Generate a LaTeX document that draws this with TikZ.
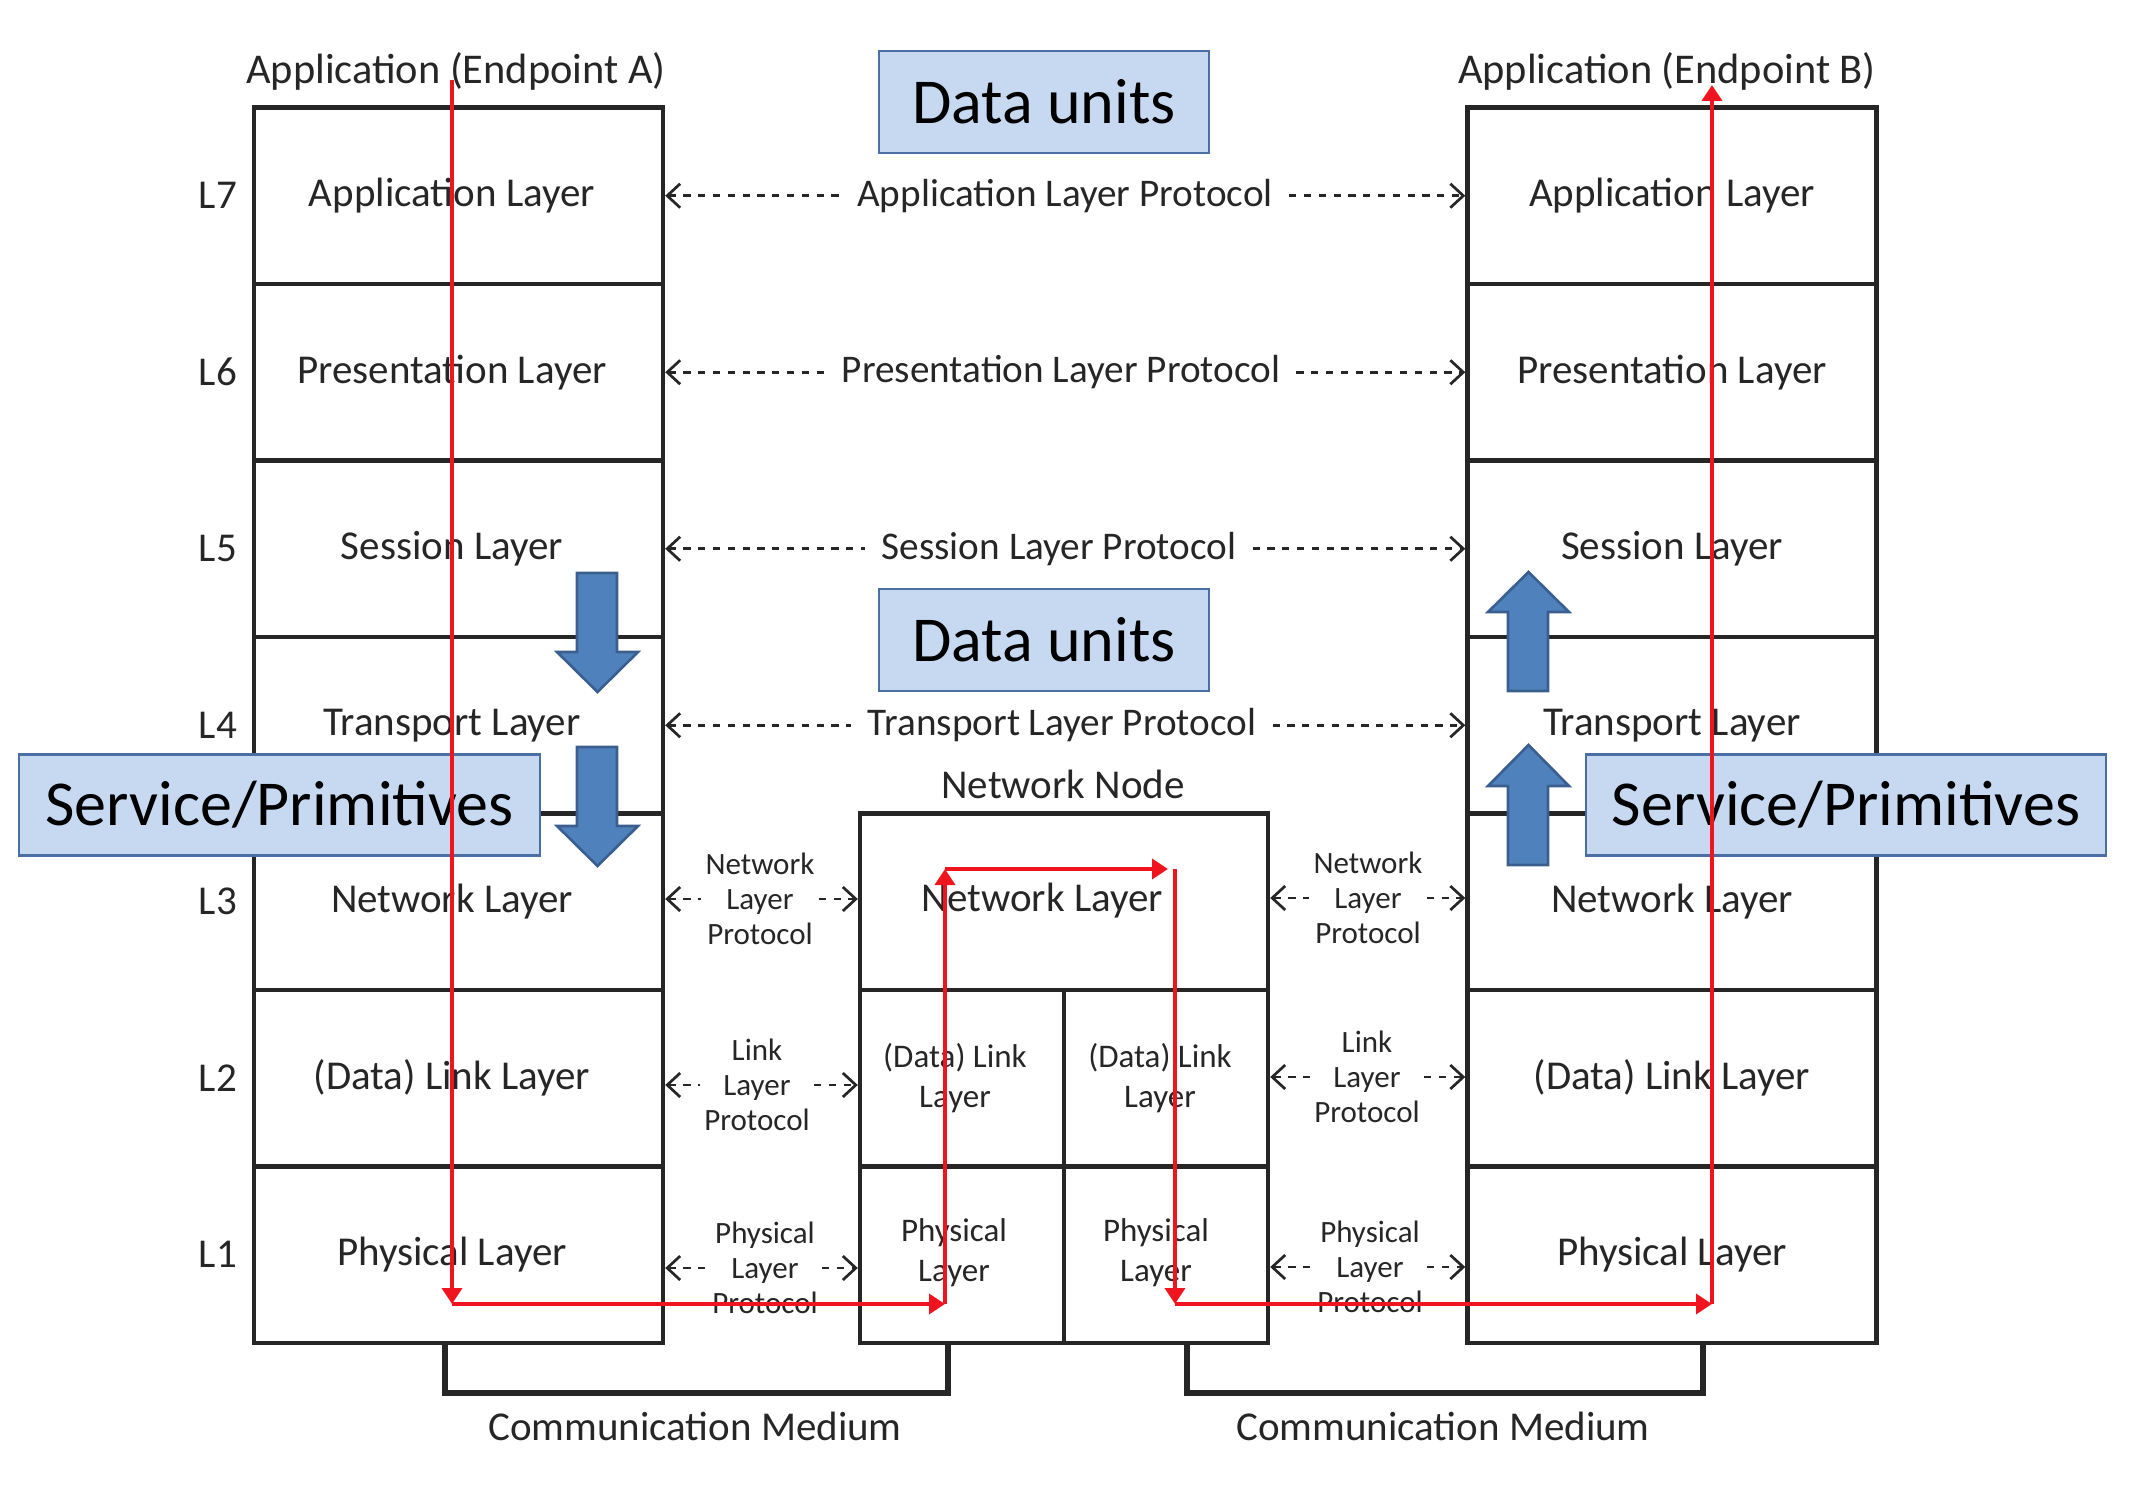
\documentclass[tikz,border=0pt]{standalone}
\usepackage{fontspec}
\setmainfont{Carlito}
\usetikzlibrary{arrows.meta}
\definecolor{txtc}{HTML}{262626}
\definecolor{lblue}{HTML}{C6D9F1}
\definecolor{bblue}{HTML}{4F81BD}
\definecolor{dblue}{HTML}{3A5F8E}
\definecolor{boxb}{HTML}{4A6FA5}
\definecolor{redc}{HTML}{F0141E}
\begin{document}
\begin{tikzpicture}[x=0.5pt,y=-0.5pt,
  layer/.style={draw=black!85, line width=2.2pt, minimum width=204.5pt, minimum height=88.25pt, inner sep=0pt, font=\fontsize{20.5}{24}\selectfont, text=txtc},
  cell/.style={draw=black!85, line width=2.2pt, minimum width=102pt, minimum height=88.25pt, inner sep=0pt},
  big/.style={font=\fontsize{20.5}{24}\selectfont, text=txtc, inner sep=0pt},
  title/.style={font=\fontsize{21.2}{25}\selectfont, text=txtc, inner sep=0pt},
  ptxt/.style={font=\fontsize{19.6}{24}\selectfont, text=txtc, inner ysep=0pt, inner xsep=8pt},
  small/.style={font=\fontsize{15.5}{17.5}\selectfont, text=txtc, align=center, inner ysep=0pt, inner xsep=2pt},
  celltxt/.style={font=\fontsize{16.5}{20}\selectfont, text=txtc, align=center, inner sep=0pt},
  proto/.style={draw=black!85, line width=1.35pt, dash pattern=on 3.6pt off 3.8pt},
  lt/.style={proto, {Straight Barb[length=6.5pt,width=12pt,line width=1.35pt]}-},
  rt/.style={proto, -{Straight Barb[length=6.5pt,width=12pt,line width=1.35pt]}},
  med/.style={draw=black!85, line width=2.6pt, line join=miter},
  callout/.style={draw=boxb, line width=1.1pt, fill=lblue, font=\fontsize{32}{38}\selectfont, text=black, inner sep=0pt},
  barrow/.style={fill=bblue, draw=dblue, line width=1.3pt, line join=miter},
  redarr/.style={draw=redc, line width=1.9pt, -{Triangle[length=8pt,width=10pt]}}
]
\useasboundingbox (0,0) rectangle (2132,1492);

% ---- Endpoint A stack
\node[layer] (A7) at (458.5,195.75) {};
\node[layer] (A6) at (458.5,372.25) {};
\node[layer] (A5) at (458.5,548.75) {};
\node[layer] (A4) at (458.5,725.25) {};
\node[layer] (A3) at (458.5,901.75) {};
\node[layer] (A2) at (458.5,1078.25) {};
\node[layer] (A1) at (458.5,1254.75) {};
\node[big] (A7t) at (452,195.75) {Application Layer};
\node[big] (A6t) at (452,372.25) {Presentation Layer};
\node[big] (A5t) at (452,548.75) {Session Layer};
\node[big] (A4t) at (452,725.25) {Transport Layer};
\node[big] (A3t) at (452,901.75) {Network Layer};
\node[big] (A2t) at (452,1078.25) {(Data) Link Layer};
\node[big] (A1t) at (452,1254.75) {Physical Layer};

% ---- Endpoint B stack
\node[layer] (B7) at (1672,195.75) {Application Layer};
\node[layer] (B6) at (1672,372.25) {Presentation Layer};
\node[layer] (B5) at (1672,548.75) {Session Layer};
\node[layer] (B4) at (1672,725.25) {Transport Layer};
\node[layer] (B3) at (1672,901.75) {Network Layer};
\node[layer] (B2) at (1672,1078.25) {(Data) Link Layer};
\node[layer] (B1) at (1672,1254.75) {Physical Layer};

% ---- Network node
\node[layer, minimum width=204pt] (N3) at (1064,901.75) {};
\node[cell] (N2a) at (962,1078.25) {};
\node[cell] (N2b) at (1166,1078.25) {};
\node[cell] (N1a) at (962,1254.75) {};
\node[cell] (N1b) at (1166,1254.75) {};
\node[big] (NT) at (1042,901) {Network Layer};
\node[celltxt] (N2at) at (955,1078) {(Data) Link\\Layer};
\node[celltxt] (N2bt) at (1160,1078) {(Data) Link\\Layer};
\node[celltxt] (N1at) at (954,1253) {Physical\\Layer};
\node[celltxt] (N1bt) at (1156,1253) {Physical\\Layer};
\node[big] (NN) at (1063,784) {Network Node};

% ---- level labels and titles
\node[big] (L7) at (218,195.75) {L7};
\node[big] (L6) at (218,372.25) {L6};
\node[big] (L5) at (218,548.75) {L5};
\node[big] (L4) at (218,725.25) {L4};
\node[big] (L3) at (218,901.75) {L3};
\node[big] (L2) at (218,1078.25) {L2};
\node[big] (L1) at (218,1254.75) {L1};
\node[title] (TA) at (456,71) {Application (Endpoint A)};
\node[title] (TB) at (1667,71) {Application (Endpoint B)};

% ---- peer protocols, upper layers
\node[ptxt] (P7) at (1065,195.75) {Application Layer Protocol};
\node[ptxt] (P6) at (1061,372.25) {Presentation Layer Protocol};
\node[ptxt] (P5) at (1059,548.75) {Session Layer Protocol};
\node[ptxt] (P4) at (1062,725.25) {Transport Layer Protocol};
\foreach \i in {7,6,5,4}{
  \draw[lt] (A\i.east) -- (P\i.west);
  \draw[rt] (P\i.east) -- (B\i.west);
}

% ---- peer protocols, lower layers
\node[small] (Q3L) at (760,899) {Network\\Layer\\Protocol};
\node[small] (Q2L) at (757,1085) {Link\\Layer\\Protocol};
\node[small] (Q1L) at (765,1268) {Physical\\Layer\\Protocol};
\node[small] (Q3R) at (1368,898) {Network\\Layer\\Protocol};
\node[small] (Q2R) at (1367,1077) {Link\\Layer\\Protocol};
\node[small] (Q1R) at (1370,1267) {Physical\\Layer\\Protocol};
\draw[lt] (A3.east |- Q3L.west) -- (Q3L.west);
\draw[rt] (Q3L.east) -- (N3.west |- Q3L.east);
\draw[lt] (A2.east |- Q2L.west) -- (Q2L.west);
\draw[rt] (Q2L.east) -- (N2a.west |- Q2L.east);
\draw[lt] (A1.east |- Q1L.west) -- (Q1L.west);
\draw[rt] (Q1L.east) -- (N1a.west |- Q1L.east);
\draw[lt] (N3.east |- Q3R.west) -- (Q3R.west);
\draw[rt] (Q3R.east) -- (B3.west |- Q3R.east);
\draw[lt] (N2b.east |- Q2R.west) -- (Q2R.west);
\draw[rt] (Q2R.east) -- (B2.west |- Q2R.east);
\draw[lt] (N1b.east |- Q1R.west) -- (Q1R.west);
\draw[rt] (Q1R.east) -- (B1.west |- Q1R.east);

% ---- communication media
\coordinate (m1) at (445,1343);
\coordinate (m2) at (948,1343);
\coordinate (m3) at (1187,1343);
\coordinate (m4) at (1703,1343);
\draw[med] (m1) -- ++(0,50) -| (m2);
\draw[med] (m3) -- ++(0,50) -| (m4);
\node[big] (CM1) at (695,1426) {Communication Medium};
\node[big] (CM2) at (1443,1426) {Communication Medium};

% ---- callouts
\node[callout, minimum width=165pt, minimum height=51pt] (DU1) at (1044,102) {Data units};
\node[callout, minimum width=165pt, minimum height=51pt] (DU2) at (1044,640) {Data units};
\node[callout, minimum width=260.5pt, minimum height=50.5pt] (SP1) at (279.5,805) {Service/Primitives};
\node[callout, minimum width=260pt, minimum height=50.5pt] (SP2) at (1846,805) {Service/Primitives};

% ---- block arrows
\draw[barrow] (577,573) -- (617,573) -- (617,652) -- (638,652) -- (597.5,692) -- (557,652) -- (577,652) -- cycle;
\draw[barrow] (577,747) -- (617,747) -- (617,826) -- (638,826) -- (597.5,866) -- (557,826) -- (577,826) -- cycle;
\draw[barrow] (1508,691) -- (1508,612) -- (1488,612) -- (1528.5,572) -- (1569,612) -- (1548,612) -- (1548,691) -- cycle;
\draw[barrow] (1508,865) -- (1508,786) -- (1488,786) -- (1528.5,745) -- (1569,786) -- (1548,786) -- (1548,865) -- cycle;

% ---- data path
\coordinate (r0) at (452,80);
\coordinate (r1) at (452,1304);
\coordinate (r2) at (945,1304);
\coordinate (r3) at (945,869);
\coordinate (r4) at (1168,869);
\coordinate (r5) at (1175,869);
\coordinate (r6) at (1175,1304);
\coordinate (r7) at (1712,1304);
\coordinate (r8) at (1712,85);
\draw[redarr] (r0) -- (r1);
\draw[redarr] (r1) -- (r2);
\draw[redarr] (r2) -- (r3);
\draw[redarr] (r3) -- (r4);
\draw[redarr] (r5) -- (r6);
\draw[redarr] (r6) -- (r7);
\draw[redarr] (r7) -- (r8);
\end{tikzpicture}
\end{document}
